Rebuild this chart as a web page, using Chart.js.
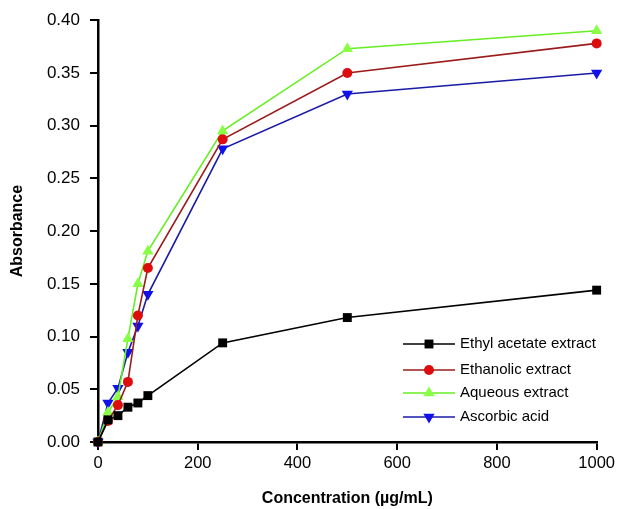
<!DOCTYPE html>
<html>
<head>
<meta charset="utf-8">
<script src="https://cdn.jsdelivr.net/npm/chart.js@4/dist/chart.umd.min.js"></script>
<style>
  html, body { margin: 0; padding: 0; background: #fff; }
  #wrap { width: 619px; height: 509px; }
</style>
</head>
<body>
<div id="wrap"><canvas id="absChart"></canvas></div>
<script>
// concentrations (ug/mL) and absorbance readings
const concentrations = [0, 20, 40, 60, 80, 100, 250, 500, 1000];
const ethylAcetate = [0, 0.021, 0.025, 0.033, 0.037, 0.044, 0.094, 0.118, 0.144];
const ethanolic    = [0, 0.020, 0.035, 0.057, 0.120, 0.165, 0.287, 0.350, 0.378];
const aqueous      = [0, 0.028, 0.043, 0.098, 0.150, 0.181, 0.295, 0.373, 0.390];
const ascorbic     = [0, 0.037, 0.051, 0.085, 0.110, 0.140, 0.278, 0.330, 0.350];

const seriesNames = ['Ethyl acetate extract', 'Ethanolic extract', 'Aqueous extract', 'Ascorbic acid'];

const FONT = '"Liberation Sans", Arial, sans-serif';

function toPoints(ys) {
  return concentrations.map((x, i) => ({ x: x, y: ys[i] }));
}

const datasets = [
  { label: seriesNames[0], data: toPoints(ethylAcetate), borderColor: '#000000', backgroundColor: '#000000',
    pointStyle: 'rect', pointRadius: 6.3, pointRotation: 0 },
  { label: seriesNames[1], data: toPoints(ethanolic), borderColor: '#9b1b1b', backgroundColor: '#dd0d0d',
    pointStyle: 'circle', pointRadius: 5, pointRotation: 0 },
  { label: seriesNames[2], data: toPoints(aqueous), borderColor: '#66ee22', backgroundColor: '#88ff44',
    pointStyle: 'triangle', pointRadius: 6.5, pointRotation: 0 },
  { label: seriesNames[3], data: toPoints(ascorbic), borderColor: '#1a1aa8', backgroundColor: '#1010e8',
    pointStyle: 'triangle', pointRadius: 6.5, pointRotation: 180 }
].map(d => Object.assign(d, { borderWidth: 1.6, pointBorderWidth: 0, tension: 0, fill: false, showLine: true,
  pointBorderColor: d.backgroundColor, clip: false }));

// legend drawn inside the plot, bottom right
const insideLegend = {
  id: 'insideLegend',
  afterDraw(chart) {
    const ctx = chart.ctx;
    const x0 = 403, x1 = 455, tx = 460;
    const rows = [344, 370, 393, 417];
    ctx.save();
    chart.data.datasets.forEach((ds, i) => {
      const y = rows[i];
      ctx.strokeStyle = ds.borderColor;
      ctx.lineWidth = 1.6;
      ctx.beginPath();
      ctx.moveTo(x0, y);
      ctx.lineTo(x1, y);
      ctx.stroke();
      ctx.fillStyle = ds.backgroundColor;
      ctx.strokeStyle = ds.backgroundColor;
      Chart.helpers.drawPoint(ctx, {
        pointStyle: ds.pointStyle, radius: ds.pointRadius, rotation: ds.pointRotation, borderWidth: 0
      }, (x0 + x1) / 2, y);
      ctx.fillStyle = '#000';
      ctx.font = '15px ' + FONT;
      ctx.textBaseline = 'middle';
      ctx.textAlign = 'left';
      ctx.fillText(ds.label, tx, y);
    });
    ctx.restore();
  }
};

new Chart(document.getElementById('absChart'), {
  type: 'scatter',
  data: { datasets: datasets },
  options: {
    responsive: true,
    maintainAspectRatio: false,
    animation: false,
    layout: { padding: { left: 0, top: 20, right: 22, bottom: 0 } },
    plugins: {
      legend: { display: false },
      tooltip: { enabled: false }
    },
    scales: {
      x: {
        type: 'linear',
        min: 0, max: 1000,
        ticks: { stepSize: 200, color: '#000', font: { family: FONT, size: 16.5 }, padding: 4,
                 callback: v => String(v) },
        grid: { display: true, drawOnChartArea: false, drawTicks: true, tickLength: 8, color: '#000', lineWidth: 2 },
        border: { display: true, color: '#000', width: 2.5 },
        title: { display: true, text: 'Concentration (µg/mL)', color: '#000',
                 font: { family: FONT, size: 16, weight: 'bold' }, padding: { top: 0, bottom: 1 } },
        afterFit(scale) { scale.height = 67; }
      },
      y: {
        min: 0, max: 0.4,
        ticks: { stepSize: 0.05, color: '#000', font: { family: FONT, size: 17 }, padding: 10,
                 callback: v => v.toFixed(2) },
        grid: { display: true, drawOnChartArea: false, drawTicks: true, tickLength: 8, color: '#000', lineWidth: 2 },
        border: { display: true, color: '#000', width: 2.5 },
        title: { display: true, text: 'Absorbance', color: '#000',
                 font: { family: FONT, size: 16, weight: 'bold' }, padding: { top: 8, bottom: 0 } },
        afterFit(scale) { scale.width = 98; }
      }
    }
  },
  plugins: [insideLegend]
});
</script>
</body>
</html>
